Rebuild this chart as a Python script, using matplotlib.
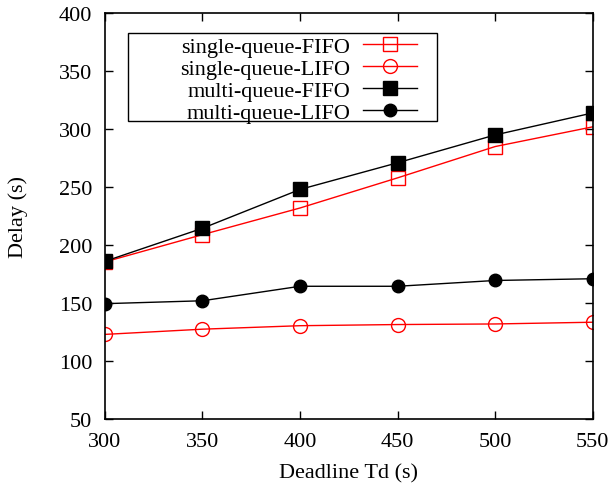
import matplotlib
matplotlib.use("Agg")
import matplotlib.pyplot as plt
from matplotlib.patches import Rectangle

# Deadline values on x axis
deadlines = [300, 350, 400, 450, 500, 550]

# delay (s)
single_fifo = [185.5, 209, 232, 258, 285, 302]
single_lifo = [123, 127.5, 130.5, 131.5, 132, 133.5]
multi_fifo = [186, 214.5, 248, 271, 295, 314]
multi_lifo = [149.5, 152, 164.5, 164.5, 169.5, 171]

yticks = [50, 100, 150, 200, 250, 300, 350, 400]

plt.rcParams['font.family'] = ['Liberation Serif', 'DejaVu Serif']

fig = plt.figure(figsize=(6.13, 4.89), dpi=100)
ax = fig.add_axes([0.171, 0.141, 0.796, 0.830])

ax.plot(deadlines, single_fifo, color='red', lw=1, marker='s', ms=10,
        mfc='none', mec='red', mew=1, label='single-queue-FIFO')
ax.plot(deadlines, single_lifo, color='red', lw=1, marker='o', ms=10,
        mfc='none', mec='red', mew=1, label='single-queue-LIFO')
ax.plot(deadlines, multi_fifo, color='black', lw=1, marker='s', ms=10,
        mfc='black', mec='black', label='multi-queue-FIFO')
ax.plot(deadlines, multi_lifo, color='black', lw=1, marker='o', ms=9,
        mfc='black', mec='black', label='multi-queue-LIFO')

ax.set_xlim(300, 550)
ax.set_ylim(50, 400)
ax.set_xticks(deadlines)
ax.set_yticks(yticks)
ax.tick_params(direction='in', top=True, right=True, length=6, width=1, labelsize=16)
ax.tick_params(axis='x', pad=9)
ax.tick_params(axis='y', pad=9)
for s in ax.spines.values():
    s.set_linewidth(1.2)

ax.set_xlabel('Deadline Td (s)', fontsize=16, labelpad=9)
ax.set_ylabel('Delay (s)', fontsize=16, labelpad=22)

# gnuplot-style key: wide box, entries pushed to the right
ax.add_patch(Rectangle((0.047, 0.734), 0.633, 0.217, transform=ax.transAxes,
                       facecolor='white', edgecolor='black', lw=1, zorder=4))
leg = ax.legend(loc='upper right', bbox_to_anchor=(0.639, 0.943), borderaxespad=0,
                markerfirst=False, frameon=False, fontsize=16, handlelength=2.4,
                labelspacing=0.06, borderpad=0, handletextpad=0.6)
leg.set_zorder(5)

fig.savefig('out.png', dpi=100)
